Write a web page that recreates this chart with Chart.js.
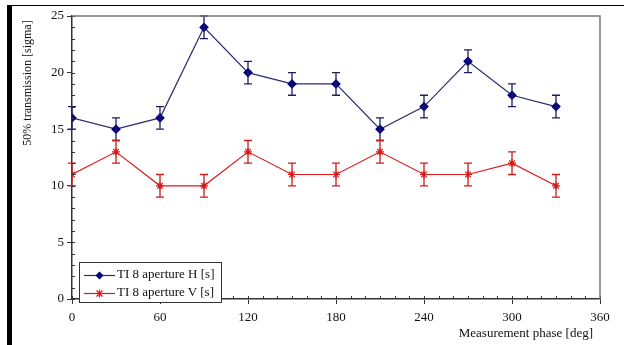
<!DOCTYPE html>
<html>
<head>
<meta charset="utf-8">
<script src="https://cdn.jsdelivr.net/npm/chart.js@4"></script>
<style>
  body { margin: 0; background: #fff; }
  #wrap { position: relative; width: 624px; height: 345px; overflow: hidden; font-family: "Liberation Serif", serif; }
  #leftBar { position: absolute; left: 7px; top: 5px; width: 5px; height: 340px; background: #000; }
  #topLine { position: absolute; left: 7px; top: 5px; width: 617px; height: 1px; background: #000; }
  #yTitle { position: absolute; left: 27px; top: 83px; transform: translate(-50%, -50%) rotate(-90deg); font-size: 12px; white-space: nowrap; color: #111; }
  #xTitle { position: absolute; right: 31px; top: 325px; font-size: 13px; color: #111; white-space: nowrap; }
  #legend { position: absolute; left: 79px; top: 262px; width: 141px; height: 39px; border: 1px solid #333; background: #fff; font-size: 13px; color: #111; z-index: 2; }
  .row { position: absolute; left: 4px; height: 15px; line-height: 15px; white-space: nowrap; }
  .row canvas { vertical-align: middle; margin-right: 2px; }
  canvas#c { position: absolute; left: 0; top: 0; }
</style>
</head>
<body>
<div id="wrap">
  <canvas id="c" width="624" height="345"></canvas>
  <div id="leftBar"></div>
  <div id="topLine"></div>
  <div id="yTitle">50% transmission [sigma]</div>
  <div id="xTitle">Measurement phase [deg]</div>
  <div id="legend">
    <div class="row" style="top:3px"><canvas id="lg1" width="31" height="12"></canvas>TI 8 aperture H [s]</div>
    <div class="row" style="top:21px"><canvas id="lg2" width="31" height="12"></canvas>TI 8 aperture V [s]</div>
  </div>
</div>
<script>
const phases = [0, 30, 60, 90, 120, 150, 180, 210, 240, 270, 300, 330];
const apertureH = [16, 15, 16, 24, 20, 19, 19, 15, 17, 21, 18, 17];
const apertureV = [11, 13, 10, 10, 13, 11, 11, 13, 11, 11, 12, 10];
const errH = [1, 1, 1, 1, 1, 1, 1, 1, 1, 1, 1, 1];
const errV = [1, 1, 1, 1, 1, 1, 1, 1, 1, 1, 1, 1];
const seriesLabels = ["TI 8 aperture H [s]", "TI 8 aperture V [s]"];

const blue = "#000080";
const blueLine = "#2c2c70";
const red = "#e01818";

// error bars + minor ticks
const extras = {
  id: "extras",
  afterDatasetsDraw(chart) {
    const ctx = chart.ctx;
    const xs = chart.scales.x, ys = chart.scales.y;
    const errs = [errH, errV];
    const cols = ["#1c1c60", "#cc1c1c"];
    chart.data.datasets.forEach((ds, i) => {
      ctx.save();
      ctx.strokeStyle = cols[i];
      ctx.lineWidth = 1.3;
      ds.data.forEach((p, j) => {
        const x = xs.getPixelForValue(p.x);
        const y1 = ys.getPixelForValue(p.y + errs[i][j]);
        const y2 = ys.getPixelForValue(p.y - errs[i][j]);
        ctx.beginPath();
        ctx.moveTo(x, y1); ctx.lineTo(x, y2);
        ctx.moveTo(x - 4, y1); ctx.lineTo(x + 4, y1);
        ctx.moveTo(x - 4, y2); ctx.lineTo(x + 4, y2);
        ctx.stroke();
      });
      ctx.restore();
    });
    // minor ticks
    const a = chart.chartArea;
    ctx.save();
    ctx.strokeStyle = "#333";
    ctx.lineWidth = 1;
    ctx.beginPath();
    for (let v = 0; v <= 360; v += 10) {
      const x = Math.round(xs.getPixelForValue(v)) + 0.5;
      ctx.moveTo(x, a.bottom); ctx.lineTo(x, a.bottom - 3);
    }
    for (let v = 0; v <= 25; v += 1) {
      const y = Math.round(ys.getPixelForValue(v)) + 0.5;
      ctx.moveTo(a.left, y); ctx.lineTo(a.left + 3, y);
    }
    ctx.stroke();
    // top/right border of plot
    ctx.strokeStyle = "#777";
    ctx.lineWidth = 1.5;
    ctx.beginPath();
    ctx.moveTo(a.left, a.top); ctx.lineTo(a.right, a.top); ctx.lineTo(a.right, a.bottom);
    ctx.stroke();
    ctx.restore();
  }
};

new Chart(document.getElementById("c"), {
  type: "line",
  data: {
    datasets: [
      {
        label: seriesLabels[0],
        data: phases.map((p, i) => ({ x: p, y: apertureH[i] })),
        borderColor: blueLine,
        borderWidth: 1.2,
        pointStyle: "rectRot",
        pointRadius: 4,
        pointBackgroundColor: blue,
        pointBorderColor: blue,
        tension: 0,
      },
      {
        label: seriesLabels[1],
        data: phases.map((p, i) => ({ x: p, y: apertureV[i] })),
        borderColor: red,
        borderWidth: 1.2,
        pointStyle: "star",
        pointRadius: 4,
        pointBorderColor: red,
        pointBorderWidth: 1.2,
        tension: 0,
      },
    ],
  },
  options: {
    responsive: false,
    animation: false,
    layout: { padding: { left: 0, top: 16, right: 24, bottom: 0 } },
    plugins: { legend: { display: false }, tooltip: { enabled: false } },
    scales: {
      x: {
        type: "linear",
        min: 0, max: 360,
        afterFit: (s) => { s.height = 46; },
        ticks: { stepSize: 60, color: "#111", padding: 6, font: { family: "Liberation Serif", size: 13 } },
        grid: { drawOnChartArea: false, tickLength: 5, color: "#333" },
        border: { color: "#333", width: 1.5 },
      },
      y: {
        min: 0, max: 25,
        afterFit: (s) => { s.width = 72; },
        ticks: { stepSize: 5, color: "#111", padding: 3, font: { family: "Liberation Serif", size: 13 } },
        grid: { drawOnChartArea: false, tickLength: 5, color: "#333" },
        border: { color: "#333", width: 1.5 },
      },
    },
  },
  plugins: [extras],
});

// legend samples
function sample(id, color, lineColor, style) {
  const g = document.getElementById(id).getContext("2d");
  g.strokeStyle = lineColor; g.lineWidth = 1.2;
  g.beginPath(); g.moveTo(0, 6.5); g.lineTo(31, 6.5); g.stroke();
  g.fillStyle = color; g.strokeStyle = color;
  if (style === "diamond") {
    g.beginPath(); g.moveTo(15.5, 2.5); g.lineTo(19.5, 6.5); g.lineTo(15.5, 10.5); g.lineTo(11.5, 6.5); g.closePath(); g.fill();
  } else {
    g.lineWidth = 1.2;
    g.beginPath();
    g.moveTo(12.5, 3.5); g.lineTo(18.5, 9.5); g.moveTo(18.5, 3.5); g.lineTo(12.5, 9.5);
    g.moveTo(15.5, 2.5); g.lineTo(15.5, 10.5);
    g.stroke();
  }
}
sample("lg1", blue, blueLine, "diamond");
sample("lg2", red, red, "star");
</script>
</body>
</html>
